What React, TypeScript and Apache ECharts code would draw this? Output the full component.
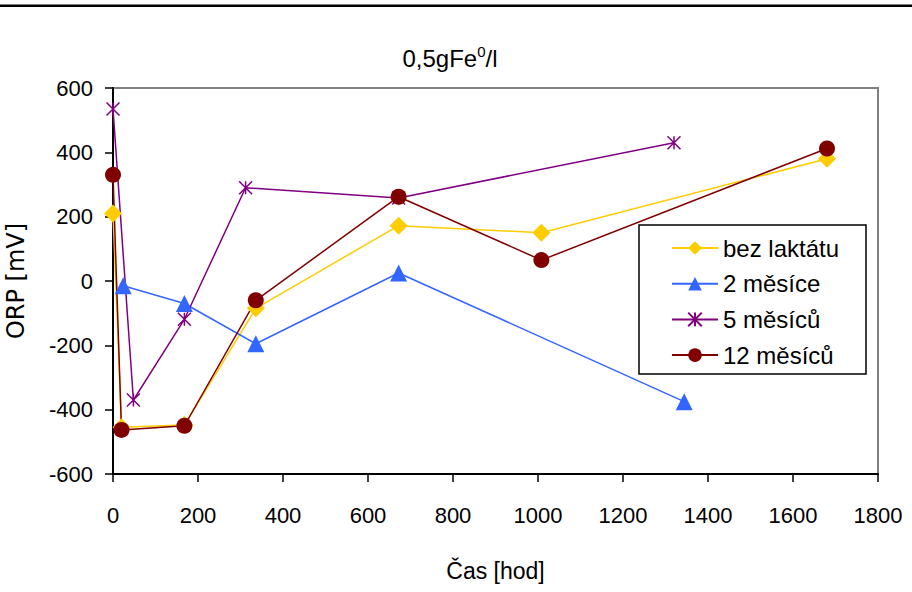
import React, { useEffect, useRef } from "react";
import * as echarts from "echarts";

// Time axis [hod] for each measurement series
const hoursBez = [0, 20, 168, 336, 672, 1008, 1680];
const orpBez = [210, -455, -448, -85, 172, 150, 380];

const hours2m = [24, 168, 336, 672, 1344];
const orp2m = [-15, -70, -195, 25, -375];

const hours5m = [0, 48, 168, 312, 672, 1320];
const orp5m = [535, -370, -119, 290, 258, 430];

const hours12m = [0, 20, 168, 336, 672, 1008, 1680];
const orp12m = [330, -463, -450, -60, 262, 65, 412];

const seriesNames = ["bez laktátu", "2 měsíce", "5 měsíců", "12 měsíců"];
const xTicks = [0, 1800, 200];
const yTicks = [-600, 600, 200];

const FONT = "'Liberation Sans', Arial, sans-serif";
const STAR = "path://M0,0L10,10M10,0L0,10M5,0L5,10";

const pairs = (xs: number[], ys: number[]) => xs.map((x, i) => [x, ys[i]]);

export default function App() {
  const ref = useRef<HTMLDivElement>(null);

  useEffect(() => {
    if (!ref.current) return;
    const chart = echarts.init(ref.current, null, { renderer: "svg" });

    const lineSeries = (
      name: string,
      data: number[][],
      color: string,
      symbol: string,
      symbolSize: number,
      extraItem: any = {}
    ) => ({
      name,
      type: "line",
      data,
      symbol,
      symbolSize,
      showSymbol: true,
      lineStyle: { color, width: 1.5 },
      itemStyle: { color, ...extraItem },
      z: 3,
    });

    chart.setOption({
      animation: false,
      backgroundColor: "#ffffff",
      grid: {
        left: 113,
        right: 34,
        top: 88,
        bottom: 118,
        outerBoundsMode: "none",
        containLabel: false,
        show: true,
        borderColor: "#808080",
        borderWidth: 2,
        backgroundColor: "transparent",
      },
      graphic: [
        {
          type: "rect",
          shape: { x: 0, y: 4.5, width: 912, height: 2.5 },
          style: { fill: "#000000" },
        },
        {
          type: "text",
          x: 450,
          y: 58,
          style: {
            text: "{b|0,5gFe}{s|0}{b|/l}",
            align: "center",
            verticalAlign: "middle",
            rich: {
              b: { fontFamily: FONT, fontSize: 24, fill: "#000" },
              s: {
                fontFamily: FONT,
                fontSize: 15,
                fill: "#000",
                verticalAlign: "top",
                padding: [0, 0, 13, 0],
              },
            },
          },
        },
        {
          type: "rect",
          shape: { x: 639, y: 225, width: 227, height: 149 },
          style: { fill: "#ffffff", stroke: "#000000", lineWidth: 1.5 },
          z: 10,
        },
      ],
      legend: {
        data: seriesNames,
        orient: "vertical",
        left: 671,
        top: 236,
        itemWidth: 46,
        itemHeight: 17,
        itemGap: 11.7,
        padding: 0,
        z: 11,
        textStyle: {
          fontFamily: FONT,
          fontSize: 24,
          color: "#000",
          lineHeight: 24,
        },
      },
      xAxis: {
        type: "value",
        min: xTicks[0],
        max: xTicks[1],
        interval: xTicks[2],
        name: "Čas [hod]",
        nameLocation: "middle",
        nameGap: 85,
        nameTextStyle: { fontFamily: FONT, fontSize: 23, color: "#000" },
        axisLine: { show: true, onZero: false, lineStyle: { color: "#000", width: 2 } },
        axisTick: { show: true, length: 8, lineStyle: { color: "#000", width: 1.5 } },
        axisLabel: {
          fontFamily: FONT,
          fontSize: 22,
          color: "#000",
          margin: 30,
          formatter: (v: number) => String(v),
        },
        splitLine: { show: false },
      },
      yAxis: {
        type: "value",
        min: yTicks[0],
        max: yTicks[1],
        interval: yTicks[2],
        name: "ORP [mV]",
        nameLocation: "middle",
        nameGap: 85,
        nameRotate: 90,
        nameTextStyle: { fontFamily: "'DejaVu Sans', sans-serif", fontSize: 24, color: "#000" },
        axisLine: { show: true, onZero: false, lineStyle: { color: "#000", width: 2 } },
        axisTick: { show: true, length: 8, lineStyle: { color: "#000", width: 1.5 } },
        axisLabel: {
          fontFamily: FONT,
          fontSize: 22,
          color: "#000",
          margin: 20,
          formatter: (v: number) => String(v),
        },
        splitLine: { show: false },
      },
      series: [
        lineSeries(seriesNames[0], pairs(hoursBez, orpBez), "#FFCC00", "diamond", 18),
        lineSeries(seriesNames[1], pairs(hours2m, orp2m), "#3366FF", "triangle", 17),
        lineSeries(seriesNames[2], pairs(hours5m, orp5m), "#800080", STAR, 13, {
          borderColor: "#800080",
          borderWidth: 1.5,
        }),
        lineSeries(seriesNames[3], pairs(hours12m, orp12m), "#800000", "circle", 16),
      ],
    });

    return () => chart.dispose();
  }, []);

  return (
    <div
      ref={ref}
      style={{ position: "absolute", left: 0, top: 0, width: 912, height: 592 }}
    />
  );
}
